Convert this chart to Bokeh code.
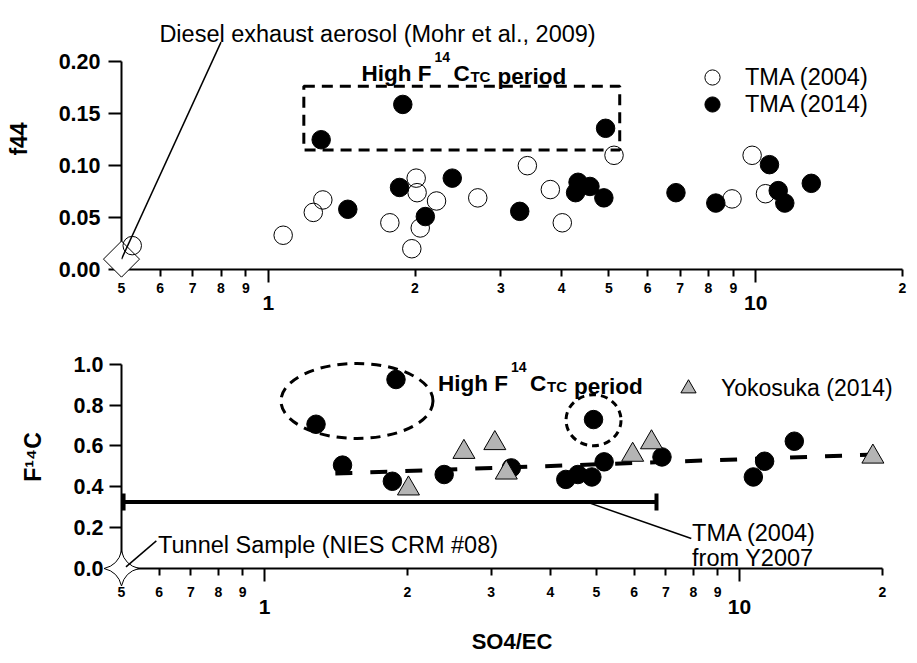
import math
from bokeh.plotting import figure
from bokeh.models import (Range1d, FixedTicker, LogAxis, Label, Arrow, Whisker,
                          ColumnDataSource, Legend, LegendItem, PrintfTickFormatter, TeeHead)
from bokeh.layouts import column
from bokeh.embed import file_html
from bokeh.resources import INLINE

FONT = "Liberation Sans"

# ---------------- axes / ticks ----------------
x_start, x_end = 0.5, 20
x_small_ticks = [0.5, 0.6, 0.7, 0.8, 0.9, 2, 3, 4, 5, 6, 7, 8, 9, 20]
x_small_labels = ["5", "6", "7", "8", "9", "2", "3", "4", "5", "6", "7", "8", "9", "2"]
x_decade_ticks = [1, 10]
x_decade_labels = ["1", "10"]
f44_ticks = [0.0, 0.05, 0.10, 0.15, 0.20]
f44_axis = (0.0, 0.20)
fc_ticks = [0.0, 0.2, 0.4, 0.6, 0.8, 1.0]
fc_axis = (0.0, 1.0)

# ---------------- top panel: f44 vs SO4/EC ----------------
tma04_x = [0.526, 1.073, 1.237, 1.294, 1.776, 2.011, 2.02, 2.214, 1.97, 2.05,
           2.69, 3.40, 3.79, 4.01, 5.12, 9.83, 8.94, 10.47]
tma04_f44 = [0.023, 0.033, 0.055, 0.067, 0.045, 0.088, 0.074, 0.066, 0.020, 0.040,
             0.069, 0.100, 0.077, 0.045, 0.110, 0.110, 0.068, 0.073]
tma14_x = [1.284, 1.888, 1.456, 1.859, 2.10, 2.385, 4.92, 3.28, 4.32, 4.57,
           4.27, 4.88, 6.86, 8.28, 10.67, 11.12, 11.47, 13.0]
tma14_f44 = [0.125, 0.159, 0.058, 0.079, 0.051, 0.088, 0.136, 0.056, 0.084, 0.080,
             0.074, 0.069, 0.074, 0.064, 0.101, 0.076, 0.064, 0.083]
diesel_x = [0.5]
diesel_f44 = [0.01]
diesel_leader_end = (0.80, 0.219)
hi_box_left, hi_box_right = [1.183], [5.26]
hi_box_bottom, hi_box_top = [0.115], [0.1766]

# ---------------- bottom panel: F14C vs SO4/EC ----------------
tma14b_x = [1.284, 1.892, 1.46, 1.859, 2.39, 4.93, 3.31, 4.31, 4.57, 4.89,
            5.19, 6.87, 10.7, 11.3, 13.05]
tma14b_fc = [0.706, 0.925, 0.506, 0.427, 0.46, 0.729, 0.4925, 0.436, 0.46, 0.448,
             0.522, 0.546, 0.448, 0.525, 0.623]
yoko_x = [2.01, 2.63, 3.055, 3.23, 5.96, 6.53, 19.1]
yoko_fc = [0.391, 0.570, 0.613, 0.469, 0.556, 0.617, 0.547]
fit_x = [1.41, 20]
fit_fc = [0.465, 0.559]
tunnel_x = [0.5]
tunnel_fc = [0.0]
tunnel_leader = (0.511, 0.008, 0.592, 0.135)
tma04_range_fc = [0.326]
tma04_range_lo = [0.505]
tma04_range_hi = [6.69]
tma04_leader = (4.76, 0.326, 7.92, 0.147)
hi_ellipse_x, hi_ellipse_fc = [1.566], [0.82]
hi_circle_x, hi_circle_fc = [4.93], [0.726]


def style_common(p):
    p.xgrid.visible = False
    p.ygrid.visible = False
    p.outline_line_color = None


def setup_x(p, small_standoff, decade_standoff):
    ax = p.xaxis[0]
    ax.bounds = (x_start, x_end)
    ax.ticker = FixedTicker(ticks=x_small_ticks, minor_ticks=x_decade_ticks)
    ax.major_label_overrides = dict(zip(x_small_ticks, x_small_labels))
    ax.major_label_text_font = FONT
    ax.major_label_text_font_style = "bold"
    ax.major_label_text_font_size = "14px"
    ax.major_label_text_color = "black"
    ax.major_tick_out = 7
    ax.major_tick_in = 0
    ax.minor_tick_out = 13
    ax.minor_tick_in = 0
    ax.axis_line_width = 2
    ax.axis_line_color = "black"
    ax.major_tick_line_width = 2
    ax.minor_tick_line_width = 2
    ax.major_tick_line_color = "black"
    ax.minor_tick_line_color = "black"
    ax.major_label_standoff = small_standoff

    ax2 = LogAxis(ticker=FixedTicker(ticks=x_decade_ticks, minor_ticks=[]))
    ax2.bounds = (x_start, x_end)
    ax2.major_label_overrides = dict(zip(x_decade_ticks, x_decade_labels))
    ax2.axis_line_color = None
    ax2.major_tick_line_color = None
    ax2.minor_tick_line_color = None
    ax2.major_tick_out = 0
    ax2.major_tick_in = 0
    ax2.minor_tick_out = 0
    ax2.minor_tick_in = 0
    ax2.major_label_text_font = FONT
    ax2.major_label_text_font_style = "bold"
    ax2.major_label_text_font_size = "21px"
    ax2.major_label_text_color = "black"
    ax2.major_label_standoff = decade_standoff
    p.add_layout(ax2, "below")
    return ax2


def setup_y(p, ticks, bounds, fmt, tick_len, standoff, title, title_standoff):
    ay = p.yaxis[0]
    ay.bounds = bounds
    ay.ticker = FixedTicker(ticks=ticks, minor_ticks=[])
    ay.formatter = PrintfTickFormatter(format=fmt)
    ay.major_tick_out = tick_len
    ay.major_tick_in = 0
    ay.minor_tick_out = 0
    ay.minor_tick_in = 0
    ay.axis_line_width = 2
    ay.axis_line_color = "black"
    ay.major_tick_line_width = 2
    ay.major_tick_line_color = "black"
    ay.major_label_text_font = FONT
    ay.major_label_text_font_style = "bold"
    ay.major_label_text_font_size = "21.5px"
    ay.major_label_text_color = "black"
    ay.major_label_standoff = standoff
    ay.axis_label = title
    ay.axis_label_text_font = FONT
    ay.axis_label_text_font_style = "bold"
    ay.axis_label_text_font_size = "23px"
    ay.axis_label_text_color = "black"
    ay.axis_label_standoff = title_standoff


def text(p, x, y, s, size="23.5px", bold=False, dx=0, dy=0, align="left"):
    p.add_layout(Label(x=x, y=y, x_offset=dx, y_offset=dy, text=s,
                       text_font=FONT, text_font_size=size,
                       text_font_style="bold" if bold else "normal",
                       text_color="black", text_align=align,
                       text_baseline="alphabetic"))


def high_period(p, x, y):
    text(p, x, y, "High F", "22.5px", True)
    text(p, x, y, "14", "14px", True, dx=73, dy=16.5)
    text(p, x, y, "C", "22.5px", True, dx=92)
    text(p, x, y, "TC", "15px", True, dx=109, dy=-3.5)
    text(p, x, y, "period", "22.5px", True, dx=136, dy=-3)


def legend(p, renderer, label, loc, size="23.5px"):
    p.add_layout(Legend(items=[LegendItem(label=label, renderers=[renderer])],
                        location=loc, glyph_width=38, glyph_height=38, label_height=27,
                        label_standoff=14, padding=0, margin=0,
                        border_line_color=None, background_fill_color=None,
                        label_text_font=FONT, label_text_font_size=size,
                        label_text_color="black"))


# ======================= TOP FIGURE =======================
p1 = figure(width=917, height=340, x_axis_type="log",
            x_range=Range1d(x_start, x_end), y_range=Range1d(0, 0.2514),
            output_backend="svg", toolbar_location=None,
            min_border_left=121, min_border_right=15, min_border_top=8, min_border_bottom=71)
style_common(p1)
setup_x(p1, 0, 0)
setup_y(p1, f44_ticks, f44_axis, "%.2f", 13, 8, "f44", 24)

r14 = p1.scatter(tma14_x, tma14_f44, marker="circle", size=18.5,
                 fill_color="black", line_color="black", line_width=1)
p1.quad(left=hi_box_left, right=hi_box_right, bottom=hi_box_bottom, top=hi_box_top,
        fill_color=None, line_color="black", line_width=3, line_dash="11 7")
p1.scatter(diesel_x, diesel_f44, marker="square", angle=math.pi / 4, size=25.5,
           fill_color="white", line_color="black", line_width=1, level="overlay")
r04 = p1.scatter(tma04_x, tma04_f44, marker="circle", size=18.5,
                 fill_color=None, line_color="black", line_width=1, level="overlay")
p1.add_layout(Arrow(end=None, x_start=diesel_x[0], y_start=diesel_f44[0],
                    x_end=diesel_leader_end[0], y_end=diesel_leader_end[1],
                    line_width=1.5, line_color="black", level="overlay"))

text(p1, 0.598, 0.2267, "Diesel exhaust aerosol (Mohr et al., 2009)")
high_period(p1, 1.553, 0.189)

legend(p1, r04, "TMA (2004)", (572, 173))
legend(p1, r14, "TMA (2014)", (572, 146))

# ======================= BOTTOM FIGURE =======================
p2 = figure(width=917, height=323, x_axis_type="log",
            x_range=Range1d(x_start, 22.05), y_range=Range1d(0, 1.0915),
            output_backend="svg", toolbar_location=None,
            min_border_left=118, min_border_right=1, min_border_top=5, min_border_bottom=95)
style_common(p2)
ax2b = setup_x(p2, 5, 0)
setup_y(p2, fc_ticks, fc_axis, "%.1f", 12, 6, "F\u00b9\u2074C", 25)
ax2b.axis_label = "SO4/EC"
ax2b.axis_label_text_font = FONT
ax2b.axis_label_text_font_style = "bold"
ax2b.axis_label_text_font_size = "22px"
ax2b.axis_label_text_color = "black"
ax2b.axis_label_standoff = 12

p2.line(fit_x, fit_fc, line_color="black", line_width=4, line_dash="17 18")
wsrc = ColumnDataSource(dict(base=tma04_range_fc, lower=tma04_range_lo, upper=tma04_range_hi))
p2.add_layout(Whisker(source=wsrc, base="base", lower="lower", upper="upper", dimension="width",
                      line_color="black", line_width=4,
                      lower_head=TeeHead(size=17, line_width=4, line_color="black"),
                      upper_head=TeeHead(size=17, line_width=4, line_color="black")))
p2.scatter(tma14b_x, tma14b_fc, marker="circle", size=18.5,
           fill_color="black", line_color="black", line_width=1)
ry = p2.scatter(yoko_x, yoko_fc, marker="triangle", size=22,
                fill_color="#b4b4b4", line_color="black", line_width=1)
p2.ellipse(x=hi_ellipse_x, y=hi_ellipse_fc, width=152, height=75,
           width_units="screen", height_units="screen",
           fill_color=None, line_color="black", line_width=3, line_dash="10 7")
p2.ellipse(x=hi_circle_x, y=hi_circle_fc, width=55, height=51,
           width_units="screen", height_units="screen",
           fill_color=None, line_color="black", line_width=3, line_dash="7 5")
p2.scatter(tunnel_x, tunnel_fc, marker="square_pin", angle=math.pi / 4, size=24.7,
           fill_color="white", line_color="black", line_width=1, level="overlay")
p2.add_layout(Arrow(end=None, x_start=tunnel_leader[0], y_start=tunnel_leader[1],
                    x_end=tunnel_leader[2], y_end=tunnel_leader[3],
                    line_width=1.5, line_color="black", level="overlay"))
p2.add_layout(Arrow(end=None, x_start=tma04_leader[0], y_start=tma04_leader[1],
                    x_end=tma04_leader[2], y_end=tma04_leader[3],
                    line_width=1.5, line_color="black", level="overlay"))

text(p2, 0.597, 0.114, "Tunnel Sample (NIES CRM #08)")
text(p2, 7.95, 0.174, "TMA (2004)")
text(p2, 7.95, 0.049, "from Y2007")
high_period(p2, 2.32, 0.907)

legend(p2, ry, "Yokosuka (2014)", (548, 161), size="23px")

layout = column(p1, p2, spacing=0)
open("out.html", "w").write(file_html(layout, INLINE))
